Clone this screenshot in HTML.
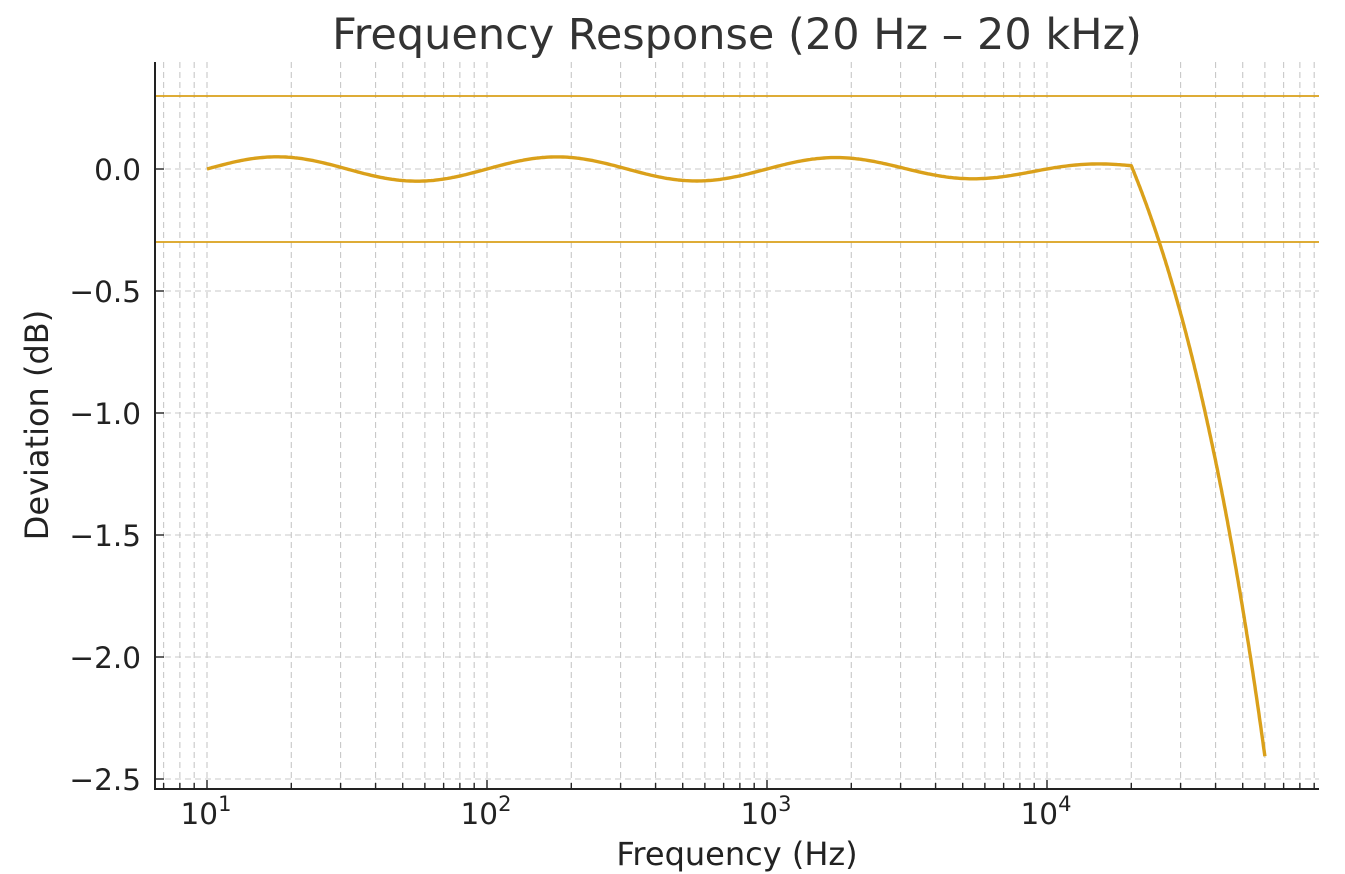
<!DOCTYPE html><html><head><meta charset="utf-8"><style>body{margin:0;background:#fff}svg{display:block;font-family:"DejaVu Sans","Liberation Sans",sans-serif}</style></head><body>
<svg id="s" width="1345" height="874" xmlns="http://www.w3.org/2000/svg">
<rect width="1345" height="874" fill="#fff"/>
<g id="grid"></g>
<line x1="155" y1="96" x2="1319" y2="96" stroke="#DAA01A" stroke-width="1.8"/>
<line x1="155" y1="242" x2="1319" y2="242" stroke="#DAA01A" stroke-width="1.8"/>
<path id="curve" fill="none" stroke="#DAA01A" stroke-width="3.4" stroke-linejoin="round"/>
<line x1="155" y1="62" x2="155" y2="790" stroke="#222" stroke-width="2"/>
<line x1="154" y1="789" x2="1319" y2="789" stroke="#222" stroke-width="2"/>
<g id="ticks" fill="#222" font-size="29.5"></g>
<text x="737" y="49" text-anchor="middle" font-size="43" fill="#333">Frequency Response (20 Hz – 20 kHz)</text>
<text x="737" y="865" text-anchor="middle" font-size="32" fill="#222">Frequency (Hz)</text>
<text transform="translate(48,425) rotate(-90)" text-anchor="middle" font-size="32" fill="#222">Deviation (dB)</text>
</svg>
<script>
var X=function(f){return 207+(Math.log10(f)-1)*280},Y=function(d){return 169-d*244};
var g='',t='';
for(var e=0;e<5;e++)for(var m=1;m<10;m++){var f=m*Math.pow(10,e);var x=X(f);if(x<156||x>1319)continue;
g+='<line x1="'+x+'" y1="62" x2="'+x+'" y2="789" stroke="#c8c8c8" stroke-width="1.1" stroke-dasharray="6,4"/>';
t+='<line x1="'+x+'" y1="789" x2="'+x+'" y2="'+(m==1?780:783)+'" stroke="#222" stroke-width="1.4"/>';}
for(var i=0;i<=5;i++){var d=-0.5*i,y=Y(d);g+='<line x1="155" y1="'+y+'" x2="1319" y2="'+y+'" stroke="#c8c8c8" stroke-width="1.1" stroke-dasharray="6,4"/>';
t+='<line x1="155" y1="'+y+'" x2="164" y2="'+y+'" stroke="#222" stroke-width="1.4"/><text x="141" y="'+(y+11)+'" text-anchor="end">'+(i==0?'0.0':'\u2212'+(0.5*i).toFixed(1))+'</text>';}
for(var e=1;e<5;e++){t+='<text x="'+(X(Math.pow(10,e))-1)+'" y="824" text-anchor="middle">10<tspan font-size="21" dy="-13">'+e+'</tspan></text>';}
document.getElementById('grid').innerHTML=g;document.getElementById('ticks').innerHTML=t;
var pts=[];for(var k=0;k<=400;k++){var l=1+k*(Math.log10(20000)-1)/400,f=Math.pow(10,l);pts.push([X(f),Y(0.05*(1-f/28000)*Math.sin(2*Math.PI*(l-1)))]);}
var d0=0.05*(1-20000/28000)*Math.sin(2*Math.PI*(Math.log10(20000)-1));
for(var k=1;k<=200;k++){var l=Math.log10(20000)+k*(Math.log10(60000)-Math.log10(20000))/200,f=Math.pow(10,l);pts.push([X(f),Y(d0-(f-20000)*6.05e-5)]);}
document.getElementById('curve').setAttribute('d',pts.map(function(q,i){return (i?'L':'M')+q[0].toFixed(1)+','+q[1].toFixed(1)}).join(''));
</script></body></html>
